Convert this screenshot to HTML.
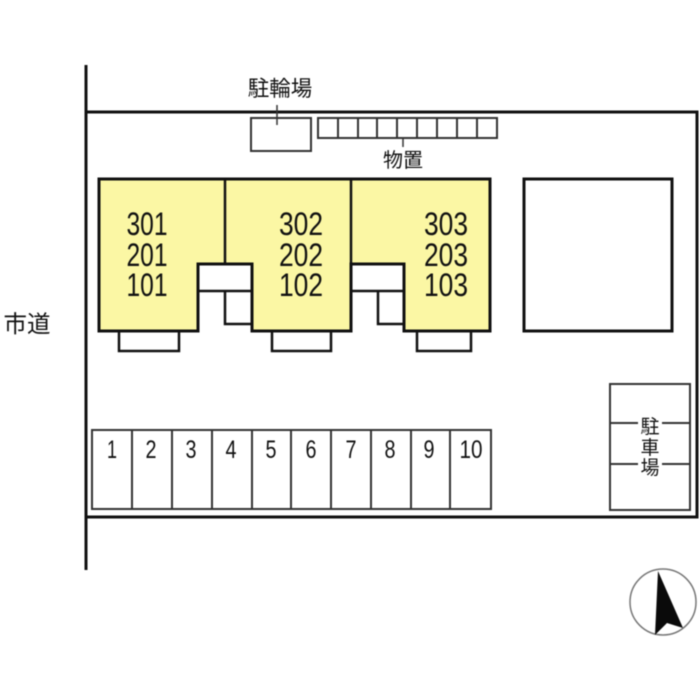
<!DOCTYPE html>
<html><head><meta charset="utf-8"><style>
html,body{margin:0;padding:0;background:#fff}
svg{display:block;filter:blur(0.4px)}
text{font-family:"Liberation Sans","Noto Sans CJK JP",sans-serif;fill:#111}
</style></head><body>
<svg width="700" height="700" viewBox="0 0 700 700" xmlns="http://www.w3.org/2000/svg">
<rect width="700" height="700" fill="#fff"/>
<!-- site -->
<g fill="none" stroke="#111" stroke-width="3">
<path d="M86 65V570"/>
<path d="M86 112H697V517H86"/>
</g>
<!-- bike + storage -->
<g fill="none" stroke="#333" stroke-width="2">
<rect x="251" y="118" width="60" height="33"/>
<rect x="318" y="118" width="179" height="20"/>
<path d="M338 118v20M358 118v20M377 118v20M397 118v20M417 118v20M437 118v20M457 118v20M477 118v20"/>
<path d="M277 105v20M403 138v9" stroke-width="1.5"/>
</g>
<text x="280" y="96" font-size="21.5" text-anchor="middle">駐輪場</text>
<text x="403" y="167" font-size="20" text-anchor="middle">物置</text>
<text x="27" y="332" font-size="23.5" text-anchor="middle">市道</text>
<!-- building -->
<path d="M99 179H490V331H404V264H351V331H252V264H198V331H99Z" fill="#fbf7a4" stroke="#111" stroke-width="3"/>
<g fill="none" stroke="#111" stroke-width="2.5">
<path d="M225 179V264M351 179V264"/>
<path d="M198 291H252M351 291H404"/>
<path d="M225 291V324H252M378 291V324H404"/>
<path d="M119 332V351H179V332M272 332V351H331V332M417 332V351H471V332"/>
</g>
<g font-size="32" text-anchor="middle">
<text x="147" y="235" textLength="41" lengthAdjust="spacingAndGlyphs">301</text>
<text x="147" y="266" textLength="41" lengthAdjust="spacingAndGlyphs">201</text>
<text x="147" y="296" textLength="41" lengthAdjust="spacingAndGlyphs">101</text>
<text x="301" y="235" textLength="44" lengthAdjust="spacingAndGlyphs">302</text>
<text x="301" y="266" textLength="44" lengthAdjust="spacingAndGlyphs">202</text>
<text x="301" y="296" textLength="44" lengthAdjust="spacingAndGlyphs">102</text>
<text x="446" y="235" textLength="44" lengthAdjust="spacingAndGlyphs">303</text>
<text x="446" y="266" textLength="44" lengthAdjust="spacingAndGlyphs">203</text>
<text x="446" y="296" textLength="44" lengthAdjust="spacingAndGlyphs">103</text>
</g>
<!-- square -->
<rect x="524" y="179" width="148" height="152" fill="#fff" stroke="#111" stroke-width="3"/>
<!-- parking row -->
<g fill="none" stroke="#333" stroke-width="2">
<rect x="92" y="430" width="399" height="79"/>
<path d="M132 430v79M172 430v79M212 430v79M252 430v79M291 430v79M331 430v79M371 430v79M411 430v79M450 430v79"/>
</g>
<g font-size="25" text-anchor="middle">
<text x="112" y="458" textLength="10" lengthAdjust="spacingAndGlyphs">1</text>
<text x="151" y="458" textLength="11" lengthAdjust="spacingAndGlyphs">2</text>
<text x="191" y="458" textLength="11" lengthAdjust="spacingAndGlyphs">3</text>
<text x="231" y="458" textLength="11" lengthAdjust="spacingAndGlyphs">4</text>
<text x="271" y="458" textLength="11" lengthAdjust="spacingAndGlyphs">5</text>
<text x="311" y="458" textLength="11" lengthAdjust="spacingAndGlyphs">6</text>
<text x="351" y="458" textLength="11" lengthAdjust="spacingAndGlyphs">7</text>
<text x="390" y="458" textLength="11" lengthAdjust="spacingAndGlyphs">8</text>
<text x="429" y="458" textLength="11" lengthAdjust="spacingAndGlyphs">9</text>
<text x="471" y="458" textLength="23" lengthAdjust="spacingAndGlyphs">10</text>
</g>
<!-- parking right -->
<g fill="none" stroke="#333" stroke-width="2">
<rect x="610" y="384" width="80" height="126"/>
<path d="M610 423H638M662 423H690M610 464H638M662 464H690"/>
</g>
<g font-size="19" text-anchor="middle">
<text x="650" y="433">駐</text>
<text x="650" y="454">車</text>
<text x="650" y="474">場</text>
</g>
<!-- compass -->
<circle cx="663" cy="602" r="33" fill="#fff" stroke="#777" stroke-width="1.5"/>
<path d="M658 571L683 628L667 623L655 635Z" fill="#0a0a0a"/>
</svg>
</body></html>
